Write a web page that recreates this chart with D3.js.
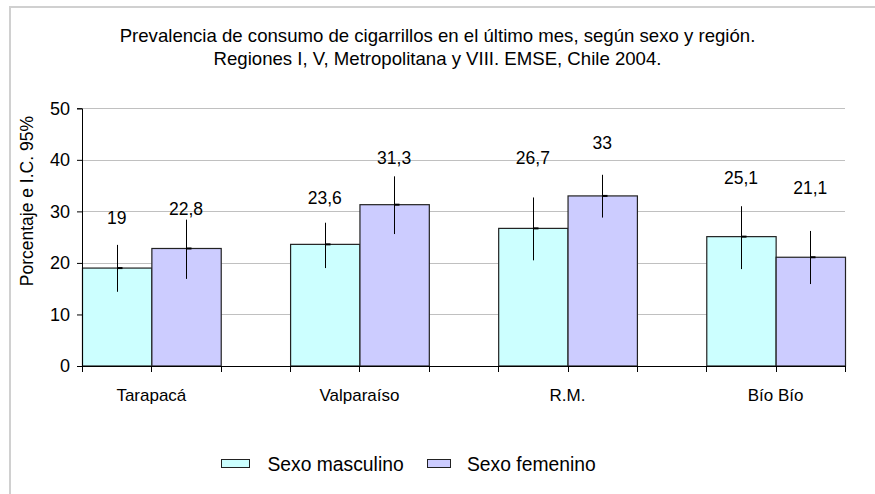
<!DOCTYPE html>
<html>
<head>
<meta charset="utf-8">
<script src="https://cdn.jsdelivr.net/npm/d3@7"></script>
<style>
  html, body { margin: 0; padding: 0; background: #fff; }
  svg { display: block; font-family: "Liberation Sans", Arial, sans-serif; }
</style>
</head>
<body>
<svg id="chart" width="875" height="494"></svg>
<script>
// ---- data ----
const categories = ["Tarapacá", "Valparaíso", "R.M.", "Bío Bío"];
const seriesNames = ["Sexo masculino", "Sexo femenino"];
const maleValues = [19, 23.6, 26.7, 25.1];
const femaleValues = [22.8, 31.3, 33, 21.1];
const maleLower = [14.4, 19.0, 20.5, 18.8];
const maleUpper = [23.5, 27.8, 32.7, 31.0];
const femaleLower = [16.9, 25.6, 28.8, 15.9];
const femaleUpper = [28.4, 36.8, 37.1, 26.2];
// heights (in % units) where the value labels sit in the original
const maleLabelAt = [28.7, 32.7, 40.5, 36.6];
const femaleLabelAt = [30.6, 40.5, 43.4, 34.5];
const yTicks = [0, 10, 20, 30, 40, 50];
const titleLines = [
  "Prevalencia de consumo de cigarrillos en el último mes, según sexo y región.",
  "Regiones I, V, Metropolitana y VIII. EMSE, Chile 2004."
];
const yAxisTitle = "Porcentaje e I.C. 95%";
const colors = ["#CCFFFF", "#CCCCFF"];

// ---- layout ----
const W = 875, H = 494;
const plot = { left: 82, right: 845, top: 108.3, bottom: 366 };
const svg = d3.select("#chart");

svg.append("rect").attr("width", W).attr("height", H).attr("fill", "#fff");
// outer chart border (extends past right/bottom edges)
svg.append("rect").attr("x", 10).attr("y", 7).attr("width", W).attr("height", H)
  .attr("fill", "none").attr("stroke", "#d0d0d0").attr("stroke-width", 2);

// slots: each region uses two slots, followed by an empty slot (11 total)
const slots = [];
categories.forEach((c, i) => {
  slots.push(c + "|0", c + "|1");
  if (i < categories.length - 1) slots.push("gap" + i);
});
const x = d3.scaleBand().domain(slots).range([plot.left, plot.right]).paddingInner(0).paddingOuter(0);
const y = d3.scaleLinear().domain([0, 50]).range([plot.bottom, plot.top]);

// gridlines
svg.append("g").selectAll("line").data(yTicks.filter(d => d > 0)).join("line")
  .attr("x1", plot.left).attr("x2", plot.right)
  .attr("y1", d => Math.round(y(d)) + 0.5).attr("y2", d => Math.round(y(d)) + 0.5)
  .attr("stroke", "#c0c0c0").attr("stroke-width", 1);

// build records
const records = [];
categories.forEach((c, i) => {
  records.push({ cat: c, s: 0, v: maleValues[i], lo: maleLower[i], hi: maleUpper[i], la: maleLabelAt[i] });
  records.push({ cat: c, s: 1, v: femaleValues[i], lo: femaleLower[i], hi: femaleUpper[i], la: femaleLabelAt[i] });
});

// bars
svg.append("g").selectAll("rect").data(records).join("rect")
  .attr("x", d => x(d.cat + "|" + d.s) + 0.5)
  .attr("y", d => y(d.v))
  .attr("width", x.bandwidth())
  .attr("height", d => y(0) - y(d.v))
  .attr("fill", d => colors[d.s])
  .attr("stroke", "#222").attr("stroke-width", 1.2);

// error bars
const eb = svg.append("g");
records.forEach(d => {
  const cx = Math.round(x(d.cat + "|" + d.s) + x.bandwidth() / 2) + 0.5;
  eb.append("line").attr("x1", cx).attr("x2", cx).attr("y1", y(d.hi)).attr("y2", y(d.lo))
    .attr("stroke", "#000").attr("stroke-width", 1);
  eb.append("line").attr("x1", cx).attr("x2", cx + 5).attr("y1", y(d.v)).attr("y2", y(d.v))
    .attr("stroke", "#000").attr("stroke-width", 2);
});

// value labels
const fmt = v => String(v).replace(".", ",");
svg.append("g").selectAll("text").data(records).join("text")
  .attr("x", d => x(d.cat + "|" + d.s) + x.bandwidth() / 2)
  .attr("y", d => y(d.la))
  .attr("dy", "0.36em")
  .attr("text-anchor", "middle")
  .attr("font-size", 17.5).attr("fill", "#000")
  .text(d => fmt(d.v));

// y axis
const yAxis = d3.axisLeft(y).tickValues(yTicks).tickSize(5).tickPadding(7).tickFormat(d3.format("d"));
const gy = svg.append("g").attr("transform", `translate(${plot.left},0)`).call(yAxis);
gy.select(".domain").attr("stroke", "#000");
gy.selectAll(".tick line").attr("stroke", "#000");
gy.selectAll("text").attr("font-size", 18).attr("font-family", "Liberation Sans, Arial, sans-serif").attr("fill", "#000");

// x axis line with ticks at every slot boundary
const boundaries = slots.map(s => x(s)).concat([plot.right]);
const gx = svg.append("g");
gx.append("line").attr("x1", plot.left).attr("x2", plot.right)
  .attr("y1", plot.bottom + 0.5).attr("y2", plot.bottom + 0.5).attr("stroke", "#000");
gx.selectAll("line.t").data(boundaries).join("line").attr("class", "t")
  .attr("x1", d => Math.round(d) + 0.5).attr("x2", d => Math.round(d) + 0.5)
  .attr("y1", plot.bottom).attr("y2", plot.bottom + 6).attr("stroke", "#000");

// category labels
svg.append("g").selectAll("text").data(categories).join("text")
  .attr("x", c => x(c + "|1"))
  .attr("y", 401)
  .attr("text-anchor", "middle")
  .attr("font-size", 17).attr("fill", "#000")
  .text(c => c);

// y axis title
svg.append("text")
  .attr("transform", `translate(27,${(plot.top + plot.bottom) / 2 - 36}) rotate(-90)`)
  .attr("text-anchor", "middle").attr("dy", "0.36em")
  .attr("font-size", 17.5).attr("fill", "#000")
  .text(yAxisTitle);

// title
svg.append("g").selectAll("text").data(titleLines).join("text")
  .attr("x", 437.5).attr("y", (d, i) => 42 + i * 23)
  .attr("text-anchor", "middle")
  .attr("font-size", 18.6).attr("fill", "#000")
  .text(d => d);

// legend
const legBox = [221, 427];
const legText = [267.5, 467];
const legend = svg.append("g");
seriesNames.forEach((n, i) => {
  legend.append("rect").attr("x", legBox[i] + 0.5).attr("y", 459.5).attr("width", i === 0 ? 28 : 23).attr("height", 8)
    .attr("fill", colors[i]).attr("stroke", "#222").attr("stroke-width", 1);
  legend.append("text").attr("x", legText[i]).attr("y", 464).attr("dy", "0.36em")
    .attr("font-size", 19.3).attr("fill", "#000").text(n);
});
</script>
</body>
</html>
